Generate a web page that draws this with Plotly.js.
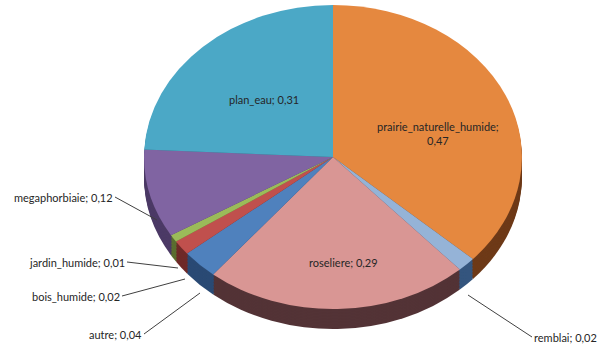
<!DOCTYPE html>
<html>
<head>
<meta charset="utf-8">
<script src="https://cdn.plot.ly/plotly-3.0.1.min.js"></script>
<style>
html,body{margin:0;padding:0;background:#fff;}
#chart{width:600px;height:347px;}
</style>
</head>
<body>
<div id="chart"></div>
<script>
// Data (clockwise from 12 o'clock)
const categories = ['prairie_naturelle_humide', 'remblai', 'roseliere', 'autre', 'bois_humide', 'jardin_humide', 'megaphorbiaie', 'plan_eau'];
const values = [0.47, 0.02, 0.29, 0.04, 0.02, 0.01, 0.12, 0.31];

const topColors  = ['#E5883F', '#95B3D7', '#D99694', '#4F81BD', '#C0504D', '#9BBB59', '#8064A2', '#4BA8C6'];
const sideColors = ['#6E3A18', '#34557E', '#533336', '#2A4A74', '#6E2A28', '#5A6E30', '#4C3A66', '#2C6E80'];

function fmt(v){ return v.toFixed(2).replace('.', ','); }

const W = 600, H = 347;
const R = 152;            // pie radius in px before horizontal stretch
const cx = 333, cy = 157; // centre of top face
const depth = 20;
const stretch = 1.243;

function domainFor(dy){
  const yc = H - cy - dy;
  return {x:[(cx - R)/W, (cx + R)/W], y:[(yc - R)/H, (yc + R)/H]};
}

const traces = [];
for (let d = depth; d >= 1; d -= 1.5) {
  traces.push({
    type:'pie', labels:categories, values:values, sort:false, direction:'clockwise', rotation:0,
    marker:{colors:sideColors, line:{width:0}}, textinfo:'none', hoverinfo:'skip',
    domain:domainFor(d), showlegend:false
  });
}
traces.push({
  type:'pie', labels:categories, values:values, sort:false, direction:'clockwise', rotation:0,
  marker:{colors:topColors, line:{width:0}}, textinfo:'none', hoverinfo:'label+value',
  domain:domainFor(0), showlegend:false
});

const font = {family:'Lato, "Open Sans", sans-serif', size:11, color:'#262626'};
function idx(n){ return categories.indexOf(n); }
function lab(n){ return n + '; ' + fmt(values[idx(n)]); }

const annotations = [
  {text:lab('plan_eau'), x:264/W, y:1-100/H, showarrow:false, xanchor:'center', yanchor:'middle'},
  {text:'prairie_naturelle_humide;<br>' + fmt(values[idx('prairie_naturelle_humide')]), x:438/W, y:1-133/H, showarrow:false, xanchor:'center', yanchor:'middle'},
  {text:lab('roseliere'), x:343/W, y:1-262/H, showarrow:false, xanchor:'center', yanchor:'middle'},
  {text:lab('megaphorbiaie'), x:157/W, y:1-220/H, ax:-42, ay:-23, xanchor:'right', showarrow:true},
  {text:lab('jardin_humide'), x:178/W, y:1-268/H, ax:-51, ay:-6, xanchor:'right', showarrow:true},
  {text:lab('bois_humide'), x:185/W, y:1-279/H, ax:-63, ay:17, xanchor:'right', showarrow:true},
  {text:lab('autre'), x:200/W, y:1-293/H, ax:-56, ay:41, xanchor:'right', showarrow:true},
  {text:lab('remblai'), x:468/W, y:1-295/H, ax:64, ay:42, xanchor:'left', showarrow:true}
].map(a => Object.assign({xref:'paper', yref:'paper', font:font, arrowhead:0, arrowwidth:1, arrowcolor:'#404040', align:'center', borderpad:1}, a));

const layout = {
  width:W, height:H, margin:{l:0, r:0, t:0, b:0},
  paper_bgcolor:'#ffffff', plot_bgcolor:'#ffffff',
  showlegend:false, annotations:annotations
};

Plotly.newPlot('chart', traces, layout, {staticPlot:true, displayModeBar:false}).then(function(){
  const g = document.querySelector('.pielayer');
  if (g) g.setAttribute('transform', 'translate(' + cx + ',0) scale(' + stretch + ',1) translate(' + (-cx) + ',0)');
});
</script>
</body>
</html>
